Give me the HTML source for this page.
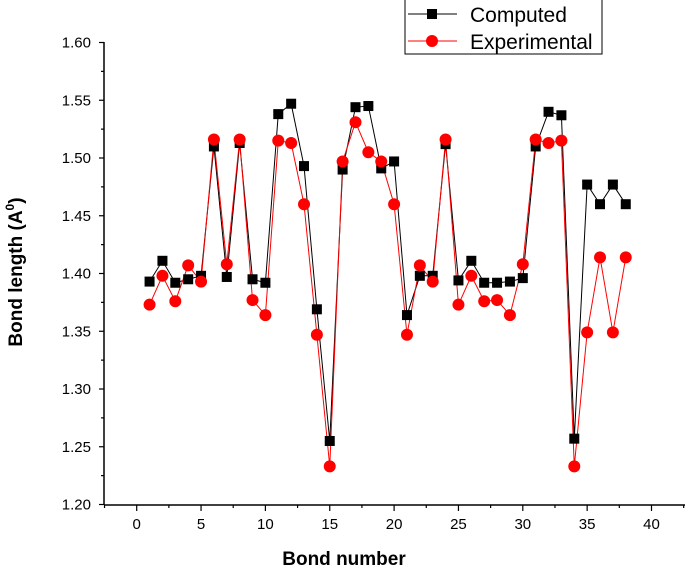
<!DOCTYPE html>
<html><head><meta charset="utf-8"><style>
body{margin:0;background:#fff;}
svg text{font-family:"Liberation Sans",Arial,sans-serif;}
</style></head><body>
<svg id="chart" width="685" height="570" xmlns="http://www.w3.org/2000/svg">
<g id="axes"></g>
<g id="series"></g>
<g>
<rect x="405" y="-1" width="197" height="55" fill="#fff" stroke="#000" stroke-width="1"/>
<g>
<line x1="408" y1="14" x2="457" y2="14" stroke="#000"/>
<rect x="427" y="9" width="10" height="10" fill="#000"/>
<text x="470" y="22" font-size="21">Computed</text>
</g>
<g>
<line x1="408" y1="41" x2="457" y2="41" stroke="#f00"/>
<circle cx="432" cy="41" r="6" fill="#f00"/>
<text x="470" y="49" font-size="21">Experimental</text>
</g>
</g>
<text x="344" y="565" font-size="19" font-weight="bold" text-anchor="middle">Bond number</text>
<text transform="translate(22,272) rotate(-90)" font-size="19" font-weight="bold" text-anchor="middle">Bond length (A<tspan dy="-8" font-size="12">0</tspan><tspan dy="8">)</tspan></text>
</svg>
<script>
const bondNumbers=[1,2,3,4,5,6,7,8,9,10,11,12,13,14,15,16,17,18,19,20,21,22,23,24,25,26,27,28,29,30,31,32,33,34,35,36,37,38];
const computed=[1.393,1.411,1.392,1.395,1.398,1.510,1.397,1.513,1.395,1.392,1.538,1.547,1.493,1.369,1.255,1.490,1.544,1.545,1.491,1.497,1.364,1.398,1.398,1.512,1.394,1.411,1.392,1.392,1.393,1.396,1.510,1.540,1.537,1.257,1.477,1.460,1.477,1.460];
const experimental=[1.373,1.398,1.376,1.407,1.393,1.516,1.408,1.516,1.377,1.364,1.515,1.513,1.460,1.347,1.233,1.497,1.531,1.505,1.497,1.460,1.347,1.407,1.393,1.516,1.373,1.398,1.376,1.377,1.364,1.408,1.516,1.513,1.515,1.233,1.349,1.414,1.349,1.414];
const xTicks=[0,5,10,15,20,25,30,35,40];
const yTicks=[1.20,1.25,1.30,1.35,1.40,1.45,1.50,1.55,1.60];
const NS="http://www.w3.org/2000/svg";
function xs(v){return 136.7+(v-0)*12.87;}
function ys(v){return 504.5-(v-1.20)*1155;}
function mk(tag,at,parent){const e=document.createElementNS(NS,tag);for(const k in at)e.setAttribute(k,at[k]);parent.appendChild(e);return e;}
const ax=document.getElementById('axes');
let l=mk('line',{x1:104,y1:42,x2:104,y2:505,stroke:'#000','stroke-width':1.5},ax);


l=mk('line',{x1:104,y1:505,x2:685,y2:505,stroke:'#000','stroke-width':1.5},ax);


for(let i=0;i<yTicks.length;i++){const y=ys(yTicks[i]);
 mk('line',{x1:99,y1:y,x2:104,y2:y,stroke:'#000','stroke-width':1.2},ax);
 if(i<yTicks.length-1){const ym=ys(yTicks[i]+0.025);mk('line',{x1:101,y1:ym,x2:104,y2:ym,stroke:'#000','stroke-width':1.2},ax);}
 const t=mk('text',{x:91,y:y+5,'font-size':15,'text-anchor':'end'},ax);t.textContent=yTicks[i].toFixed(2);
 
 }
for(let i=0;i<xTicks.length;i++){const x=xs(xTicks[i]);
 mk('line',{x1:x,y1:505,x2:x,y2:511,stroke:'#000','stroke-width':1.2},ax);
 const xm=xs(xTicks[i]+2.5);mk('line',{x1:xm,y1:505,x2:xm,y2:508,stroke:'#000','stroke-width':1.2},ax);
 const t=mk('text',{x:x,y:529,'font-size':15,'text-anchor':'middle'},ax);t.textContent=xTicks[i];
 
 }
mk('line',{x1:xs(-2.5),y1:505,x2:xs(-2.5),y2:508,stroke:'#000','stroke-width':1.2},ax);
const sg=document.getElementById('series');
function line(vals,color,name){const p=mk('polyline',{points:vals.map((v,i)=>xs(bondNumbers[i])+','+ys(v)).join(' '),fill:'none',stroke:color,'stroke-width':1},sg);
 
 }
line(computed,'#000','computed-line');
line(experimental,'#f00','experimental-line');
computed.forEach((v,i)=>{const r=mk('rect',{x:xs(bondNumbers[i])-5,y:ys(v)-5,width:10,height:10,fill:'#000'},sg);
 
 });
experimental.forEach((v,i)=>{const c=mk('circle',{cx:xs(bondNumbers[i]),cy:ys(v),r:6,fill:'#f00'},sg);
 
 });
</script>
</body></html>
